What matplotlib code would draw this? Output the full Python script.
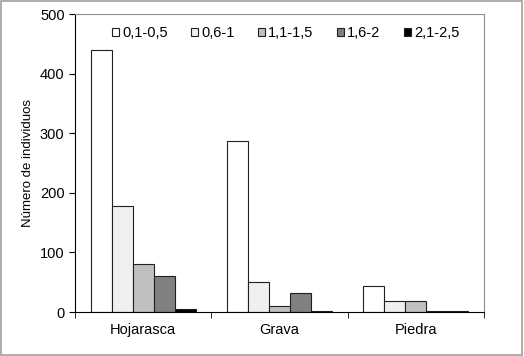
import numpy as np
import matplotlib
matplotlib.use("Agg")
import matplotlib.pyplot as plt

plt.rcParams['font.family'] = ['Liberation Sans', 'DejaVu Sans']

# data
categories = ["Hojarasca", "Grava", "Piedra"]
size_classes = ["0,1-0,5", "0,6-1", "1,1-1,5", "1,6-2", "2,1-2,5"]
counts_01_05 = [439, 287, 43]
counts_06_1 = [178, 51, 19]
counts_11_15 = [80, 10, 19]
counts_16_2 = [60, 32, 2]
counts_21_25 = [5, 2, 2]
series = [counts_01_05, counts_06_1, counts_11_15, counts_16_2, counts_21_25]
colors = ["white", "#f0f0f0", "#c0c0c0", "#808080", "black"]

fig = plt.figure(figsize=(5.24, 3.56), dpi=100)
fig.patches.append(plt.Rectangle((0.002, 0.003), 0.995, 0.993, transform=fig.transFigure,
                                 fill=False, edgecolor="#a0a0a0", linewidth=1.2))
ax = fig.add_axes([75/524, 1 - 312/356, 409/524, 298/356])

x = np.arange(len(categories))
width = 0.1545
for i, (vals, col) in enumerate(zip(series, colors)):
    ax.bar(x + (i - 2) * width, vals, width, color=col, edgecolor="#202020",
           linewidth=0.8, label=size_classes[i])

ax.set_xlim(-0.5, 2.5)
ax.set_ylim(0, 500)
ax.set_yticks([0, 100, 200, 300, 400, 500])
ax.set_xticks(x)
ax.set_xticklabels(categories, fontsize=10.5)
ax.set_xticks([-0.5, 0.5, 1.5, 2.5], minor=True)
ax.tick_params(axis='x', which='major', length=0, pad=8)
ax.tick_params(axis='x', which='minor', length=4, direction='out')
ax.tick_params(axis='y', labelsize=10.5, length=4, direction='out')
ax.set_ylabel("Número de individuos", fontsize=9.5)

for side in ["top", "right"]:
    ax.spines[side].set_color("#909090")
    ax.spines[side].set_linewidth(0.8)
ax.spines["left"].set_linewidth(0.8)
ax.spines["bottom"].set_linewidth(0.8)

ax.legend(loc="center", bbox_to_anchor=(0.515, 0.936), ncol=5, frameon=False,
          fontsize=10.5, handlelength=0.5, handleheight=0.5, handletextpad=0.2,
          columnspacing=1.6, borderaxespad=0, borderpad=0)

fig.savefig("out.png", dpi=100)
